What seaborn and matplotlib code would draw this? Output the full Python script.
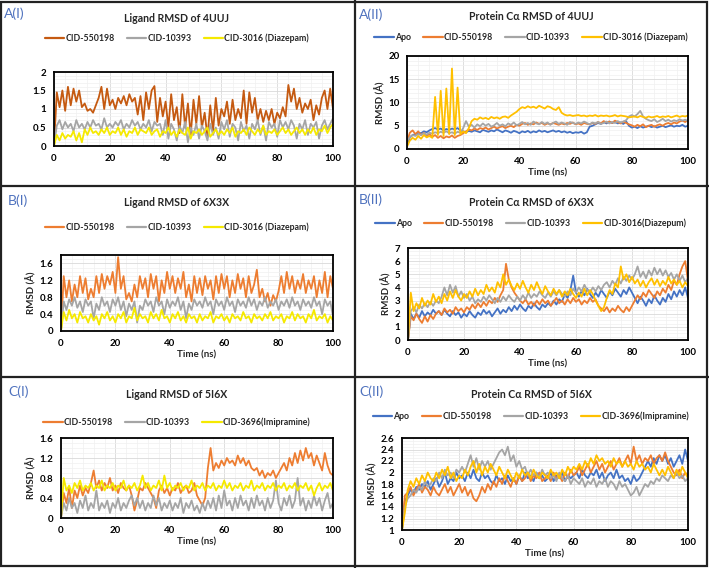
import numpy as np
import matplotlib
matplotlib.use('Agg')
import matplotlib.pyplot as plt
from matplotlib.lines import Line2D
from matplotlib.patches import Rectangle
from matplotlib.ticker import MultipleLocator
import seaborn as sns

sns.set_style('white')
plt.rcParams['font.family'] = ['Lato', 'DejaVu Sans']

# ── data (RMSD; one value per ns) ───────────────────────────────────
TIME = list(range(0, 101))

# A(I) ligand RMSD of 4UUJ
A1_CID550198 = [0.0,
    1.45, 1.05, 1.5, 0.95, 1.6, 1.1, 1.55, 1.2, 1.5, 1.05,
    1.15, 0.95, 1.0, 0.9, 1.1, 1.3, 1.6, 1.0, 1.55, 1.1,
    1.25, 1.0, 1.3, 1.15, 1.35, 1.1, 1.4, 1.2, 1.3, 0.85,
    1.35, 0.7, 1.45, 1.0, 1.5, 1.62, 0.65, 1.3, 0.8, 1.2,
    0.5, 1.4, 0.7, 1.05, 0.35, 1.4, 0.5, 1.15, 0.3, 1.25,
    0.6, 1.35, 0.5, 0.9, 0.25, 1.1, 0.4, 1.3, 0.55, 1.0,
    0.8, 1.2, 0.6, 1.25, 0.7, 1.0, 0.75, 1.5, 0.6, 1.45,
    0.9, 1.3, 0.7, 1.0, 0.65, 0.95, 0.7, 1.0, 0.6, 0.9,
    0.75, 1.05, 0.8, 1.65, 1.2, 1.55, 1.0, 1.3, 0.9, 1.15,
    1.0, 1.25, 0.7, 1.1, 0.85, 1.3, 1.5, 1.0, 1.55, 1.0]
A1_CID10393 = [0.0,
    0.55, 0.7, 0.45, 0.65, 0.5, 0.6, 0.4, 0.7, 0.5, 0.6,
    0.45, 0.65, 0.5, 0.7, 0.55, 0.6, 0.45, 0.75, 0.5, 0.6,
    0.5, 0.65, 0.55, 0.7, 0.45, 0.6, 0.5, 0.7, 0.55, 0.65,
    0.45, 0.6, 0.5, 0.7, 0.4, 0.65, 0.55, 0.6, 0.3, 0.7,
    0.2, 0.6, 0.45, 0.15, 0.55, 0.35, 0.65, 0.1, 0.5, 0.3,
    0.6, 0.2, 0.55, 0.4, 0.15, 0.6, 0.3, 0.5, 0.2, 0.65,
    0.45, 0.7, 0.25, 0.6, 0.5, 0.15, 0.65, 0.4, 0.55, 0.2,
    0.6, 0.45, 0.7, 0.3, 0.55, 0.15, 0.65, 0.5, 0.6, 0.25,
    0.7, 0.5, 0.65, 0.45, 0.7, 0.55, 0.2, 0.6, 0.45, 0.7,
    0.3, 0.6, 0.5, 0.65, 0.2, 0.55, 0.7, 0.45, 0.6, 0.75]
A1_CID3016 = [0.0,
    0.3, 0.15, 0.35, 0.2, 0.3, 0.25, 0.4, 0.15, 0.35, 0.1,
    0.45, 0.3, 0.5, 0.35, 0.4, 0.3, 0.45, 0.35, 0.5, 0.3,
    0.4, 0.35, 0.5, 0.3, 0.45, 0.25, 0.4, 0.35, 0.5, 0.3,
    0.45, 0.4, 0.35, 0.5, 0.3, 0.4, 0.45, 0.25, 0.4, 0.35,
    0.5, 0.3, 0.4, 0.25, 0.45, 0.35, 0.3, 0.5, 0.2, 0.4,
    0.35, 0.45, 0.3, 0.4, 0.5, 0.25, 0.35, 0.45, 0.3, 0.4,
    0.3, 0.45, 0.35, 0.5, 0.25, 0.4, 0.35, 0.45, 0.3, 0.5,
    0.4, 0.3, 0.45, 0.35, 0.55, 0.3, 0.4, 0.35, 0.45, 0.3,
    0.4, 0.5, 0.35, 0.45, 0.3, 0.4, 0.5, 0.35, 0.45, 0.3,
    0.45, 0.35, 0.5, 0.3, 0.45, 0.4, 0.55, 0.35, 0.5, 0.6]

# A(II) protein C-alpha RMSD of 4UUJ
A2_APO = [1.0,
    2.5, 3.0, 3.2, 3.5, 3.4, 3.8, 3.6, 4.0, 4.3, 4.5,
    4.2, 4.4, 4.0, 4.3, 4.1, 4.4, 4.2, 4.5, 4.0, 3.8,
    3.6, 3.9, 3.7, 4.0, 3.8, 3.6, 4.1, 3.9, 3.7, 4.0,
    3.8, 4.2, 3.9, 3.6, 4.0, 3.8, 3.5, 3.9, 3.7, 3.4,
    3.8, 3.6, 3.9, 3.5, 3.8, 3.6, 4.0, 3.7, 3.9, 3.6,
    3.8, 4.0, 3.7, 3.9, 3.6, 3.8, 3.5, 3.7, 3.4, 3.6,
    3.5, 3.7, 3.3, 3.6, 4.8, 5.0, 5.3, 5.6, 5.4, 5.8,
    5.5, 5.9, 5.6, 5.8, 5.5, 5.7, 5.4, 5.9, 5.0, 4.6,
    4.8, 4.5, 4.9, 4.6, 4.8, 5.0, 4.7, 4.9, 4.6, 4.8,
    5.0, 4.7, 4.9, 5.1, 4.8, 5.0, 4.9, 5.2, 4.8, 5.0]
A2_CID550198 = [1.5,
    3.5, 4.0, 3.2, 3.8, 3.0, 3.5, 2.8, 3.2, 2.6, 3.0,
    2.4, 2.8, 2.3, 2.7, 2.5, 2.9, 2.4, 2.8, 3.0, 3.4,
    3.8, 4.2, 4.0, 4.4, 4.1, 4.5, 4.3, 4.6, 4.2, 4.5,
    4.8, 4.4, 4.7, 4.9, 4.5, 4.8, 5.0, 4.7, 5.2, 5.0,
    5.4, 5.6, 5.2, 5.5, 5.3, 5.7, 5.4, 5.6, 5.2, 5.5,
    5.3, 5.6, 5.4, 5.2, 5.5, 5.3, 5.6, 5.4, 5.7, 5.3,
    5.5, 5.2, 5.6, 5.4, 5.3, 5.6, 5.4, 5.8, 5.5, 6.0,
    5.7, 5.9, 5.6, 6.1, 5.8, 5.5, 5.9, 5.6, 5.3, 5.1,
    4.8, 5.2, 4.9, 5.3, 4.7, 5.0, 5.2, 4.8, 5.1, 5.3,
    5.0, 5.4, 5.6, 5.3, 5.7, 5.5, 5.9, 6.1, 5.8, 6.2]
A2_CID10393 = [1.8,
    2.5, 3.0, 2.8, 3.2, 3.0, 3.4, 3.1, 3.5, 3.3, 3.6,
    3.4, 3.7, 3.5, 3.8, 3.4, 3.6, 3.3, 3.7, 3.5, 4.5,
    6.0, 4.8, 5.2, 4.6, 5.3, 4.9, 5.5, 5.0, 5.4, 4.8,
    5.1, 5.6, 5.0, 5.3, 4.9, 5.5, 5.2, 5.7, 5.1, 5.4,
    5.8, 5.3, 5.6, 5.2, 5.9, 5.5, 5.3, 5.8, 5.4, 5.7,
    5.2, 5.6, 5.9, 5.4, 5.7, 5.5, 5.2, 5.8, 5.6, 5.4,
    5.7, 5.5, 5.9, 5.6, 5.3, 5.7, 5.5, 5.8, 5.4, 5.6,
    5.9, 5.5, 5.8, 5.6, 6.0, 5.7, 5.9, 6.2, 7.0, 7.3,
    7.0, 7.5, 8.2, 7.0, 6.5, 6.2, 6.0, 6.4, 5.8, 6.1,
    6.5, 6.0, 6.3, 5.9, 6.2, 6.0, 6.4, 6.1, 6.3, 6.0]
A2_CID3016 = [0.5,
    1.8, 2.4, 2.0, 2.8, 2.2, 3.0, 2.5, 2.8, 2.4, 11.2,
    3.0, 12.5, 2.8, 13.0, 3.2, 17.3, 3.0, 13.2, 3.2, 3.8,
    3.4, 4.5, 6.0, 6.5, 6.3, 6.8, 6.5, 6.7, 6.4, 6.9,
    6.6, 6.8, 6.5, 6.9, 7.0, 6.7, 7.2, 7.6, 8.0, 8.6,
    9.0, 8.8, 9.2, 8.9, 9.1, 8.8, 9.3, 9.0, 8.7, 9.2,
    9.0, 8.6, 8.4, 9.0, 7.8, 7.4, 7.2, 7.3, 7.1, 7.2,
    7.3, 7.1, 7.2, 7.0, 7.2, 7.1, 7.3, 7.0, 7.2, 7.1,
    7.2, 7.0, 7.1, 7.3, 7.0, 7.2, 7.1, 7.0, 6.8, 6.9,
    7.0, 6.8, 7.1, 6.9, 6.7, 7.0, 6.8, 6.9, 7.1, 6.8,
    7.0, 6.9, 7.1, 6.8, 7.0, 7.2, 6.9, 7.1, 7.0, 7.2]

# B(I) ligand RMSD of 6X3X
B1_CID550198 = [0.0,
    1.3, 0.8, 1.2, 0.7, 1.1, 0.8, 1.3, 0.9, 1.25, 0.75,
    1.0, 0.8, 1.3, 0.9, 1.35, 1.0, 1.3, 1.1, 1.4, 0.9,
    1.75, 1.0, 1.3, 0.75, 0.9, 0.7, 1.1, 0.8, 1.3, 1.0,
    1.25, 0.8, 1.35, 1.0, 1.3, 0.7, 1.2, 0.9, 1.4, 1.0,
    1.3, 0.9, 1.25, 1.0, 1.4, 0.8, 1.1, 0.7, 1.3, 0.9,
    1.25, 0.85, 1.3, 1.0, 1.2, 0.75, 1.3, 0.9, 1.35, 1.0,
    1.3, 0.8, 1.2, 0.9, 1.35, 1.0, 1.25, 0.8, 1.3, 0.9,
    1.1, 1.45, 0.8, 1.0, 0.7, 0.9, 0.6, 0.85, 0.7, 0.95,
    1.3, 0.9, 1.4, 1.0, 1.3, 0.9, 1.2, 1.0, 1.35, 0.9,
    1.2, 1.0, 1.3, 0.8, 1.2, 0.9, 1.4, 0.8, 1.3, 1.0]
B1_CID10393 = [0.0,
    0.7, 0.5, 0.75, 0.6, 0.8, 0.55, 0.7, 0.45, 0.75, 0.6,
    0.7, 0.3, 0.65, 0.5, 0.8, 0.6, 0.7, 0.45, 0.75, 0.6,
    0.8, 0.5, 0.7, 0.35, 0.65, 0.5, 0.7, 0.2, 0.6, 0.5,
    0.75, 0.6, 0.7, 0.45, 0.8, 0.6, 0.7, 0.4, 0.75, 0.55,
    0.7, 0.6, 0.8, 0.5, 0.7, 0.3, 0.65, 0.5, 0.75, 0.6,
    0.7, 0.55, 0.8, 0.6, 0.7, 0.4, 0.75, 0.6, 0.7, 0.5,
    0.8, 0.6, 0.7, 0.45, 0.75, 0.6, 0.7, 0.55, 0.8, 0.6,
    0.75, 0.5, 0.7, 0.6, 0.8, 0.55, 0.7, 0.6, 0.75, 0.5,
    0.7, 0.6, 0.75, 0.55, 0.8, 0.6, 0.7, 0.5, 0.75, 0.6,
    0.7, 0.55, 0.8, 0.6, 0.7, 0.4, 0.75, 0.6, 0.7, 0.35]
B1_CID3016 = [0.0,
    0.45, 0.25, 0.5, 0.3, 0.4, 0.2, 0.45, 0.3, 0.35, 0.2,
    0.4, 0.25, 0.35, 0.15, 0.4, 0.3, 0.45, 0.25, 0.35, 0.2,
    0.4, 0.3, 0.45, 0.2, 0.35, 0.3, 0.55, 0.25, 0.4, 0.3,
    0.35, 0.2, 0.45, 0.3, 0.4, 0.25, 0.5, 0.3, 0.35, 0.2,
    0.4, 0.3, 0.45, 0.25, 0.35, 0.2, 0.4, 0.3, 0.35, 0.2,
    0.4, 0.25, 0.35, 0.3, 0.45, 0.2, 0.35, 0.3, 0.4, 0.25,
    0.35, 0.2, 0.4, 0.3, 0.35, 0.25, 0.45, 0.3, 0.35, 0.2,
    0.4, 0.3, 0.35, 0.25, 0.4, 0.3, 0.45, 0.25, 0.35, 0.3,
    0.4, 0.2, 0.35, 0.3, 0.45, 0.25, 0.4, 0.3, 0.35, 0.2,
    0.4, 0.3, 0.5, 0.25, 0.35, 0.3, 0.4, 0.2, 0.35, 0.25]

# B(II) protein C-alpha RMSD of 6X3X
B2_APO = [0.0,
    2.0, 1.6, 2.0, 1.7, 2.2, 1.8, 2.1, 1.9, 2.3, 2.0,
    2.2, 1.9, 2.3, 2.0, 1.8, 2.2, 1.9, 2.1, 1.7, 2.0,
    1.8, 2.2, 1.9, 1.7, 2.1, 1.9, 2.3, 2.0, 2.2, 1.8,
    2.1, 2.4, 2.0, 2.3, 2.1, 2.5, 2.2, 2.6, 2.3, 2.7,
    2.4, 2.2, 2.6, 2.4, 2.8, 2.5, 2.3, 2.7, 2.5, 2.8,
    2.6, 3.0, 2.7, 3.1, 2.9, 3.5, 3.2, 3.8, 4.9, 3.6,
    3.3, 3.7, 3.4, 3.9, 3.5, 3.2, 3.6, 3.3, 3.8, 3.5,
    3.2, 3.7, 3.4, 3.9, 3.6, 3.3, 3.8, 3.5, 4.0, 3.6,
    3.2, 2.8, 3.3, 3.0, 2.6, 3.1, 2.8, 3.4, 3.0, 2.7,
    3.2, 2.9, 3.5, 3.1, 3.7, 3.3, 3.8, 3.4, 4.0, 3.2]
B2_CID550198 = [0.0,
    1.8, 1.5, 2.0, 1.6, 1.3, 1.8, 1.4, 1.9, 1.6, 2.0,
    2.2, 1.9, 2.4, 2.1, 2.3, 2.0, 2.5, 2.2, 2.4, 2.1,
    2.5, 2.3, 2.7, 2.4, 2.8, 2.5, 2.9, 2.6, 3.0, 2.8,
    3.2, 2.9, 3.4, 3.8, 5.8, 4.6, 4.0, 3.6, 3.3, 3.0,
    2.8, 3.1, 2.7, 2.9, 2.6, 3.0, 2.7, 3.1, 2.8, 3.0,
    2.6, 2.9, 3.2, 2.8, 3.0, 2.7, 3.1, 2.8, 3.2, 2.9,
    3.1, 2.7, 3.0, 2.8, 3.2, 2.9, 3.1, 2.6, 2.4, 2.2,
    2.5, 2.1, 2.4, 2.2, 2.6, 2.3, 2.1, 2.5, 2.2, 2.6,
    3.0, 3.4, 3.1, 3.6, 3.3, 3.8, 3.5, 3.2, 3.7, 3.4,
    3.9, 3.6, 4.2, 3.8, 4.5, 4.2, 5.0, 5.6, 6.0, 4.5]
B2_CID10393 = [0.0,
    2.2, 2.5, 2.1, 2.7, 2.4, 2.8, 2.5, 2.9, 2.6, 3.0,
    2.8, 3.3, 4.0, 3.4, 4.2, 3.6, 4.1, 3.3, 3.7, 3.2,
    3.5, 3.0, 3.3, 2.8, 3.1, 2.9, 3.3, 3.0, 3.4, 3.1,
    2.8, 3.2, 2.9, 3.3, 3.0, 3.4, 3.1, 2.9, 3.3, 3.0,
    3.4, 3.1, 3.6, 3.2, 3.5, 3.3, 3.7, 3.4, 3.2, 3.6,
    3.3, 3.7, 3.4, 3.8, 3.5, 3.3, 3.7, 3.4, 3.9, 3.6,
    4.0, 3.7, 4.2, 3.8, 3.6, 4.0, 3.7, 4.1, 3.8, 4.2,
    4.4, 4.0, 4.5, 4.2, 4.7, 4.3, 4.8, 4.5, 4.9, 4.6,
    5.0, 5.6, 4.8, 5.2, 4.7, 5.3, 4.9, 5.5, 5.0, 5.4,
    4.9, 5.3, 4.8, 5.1, 4.6, 5.0, 4.5, 4.9, 4.4, 4.7]
B2_CID3016 = [0.0,
    3.6, 2.2, 2.8, 2.4, 3.2, 2.6, 3.0, 2.7, 3.5, 2.9,
    3.3, 2.8, 3.5, 3.0, 3.7, 3.2, 3.8, 3.3, 3.0, 3.5,
    3.2, 3.7, 3.3, 3.9, 3.4, 3.8, 3.5, 4.2, 3.7, 4.0,
    3.6, 4.4, 4.0, 5.0, 4.2, 4.6, 4.1, 3.8, 4.3, 3.9,
    4.5, 4.0, 3.6, 4.2, 3.8, 4.4, 3.9, 3.5, 4.1, 3.7,
    3.4, 3.9, 3.5, 3.8, 3.3, 3.7, 3.4, 3.9, 3.5, 3.2,
    3.6, 3.3, 3.9, 3.4, 3.8, 3.5, 3.0, 2.6, 2.2, 2.5,
    3.2, 3.8, 3.5, 4.3, 4.0, 5.6, 4.6, 5.0, 4.4, 4.8,
    4.3, 4.6, 4.1, 4.5, 4.0, 4.4, 4.7, 4.2, 4.6, 4.1,
    4.5, 4.2, 4.8, 4.3, 4.6, 4.2, 4.5, 4.0, 4.4, 4.1]

# C(I) ligand RMSD of 5I6X
C1_CID550198 = [0.0,
    0.5, 0.3, 0.6, 0.2, 0.55, 0.4, 0.65, 0.45, 0.6, 0.5,
    0.7, 0.95, 0.6, 0.75, 0.55, 0.7, 0.6, 0.8, 0.55, 0.65,
    0.5, 0.7, 0.6, 0.55, 0.65, 0.45, 0.15, 0.35, 0.6, 0.55,
    0.7, 0.6, 0.5, 0.4, 0.2, 0.55, 0.65, 0.5, 0.6, 0.45,
    0.6, 0.55, 0.7, 0.5, 0.6, 0.65, 0.5, 0.55, 0.7, 0.45,
    0.35, 0.25, 0.4, 1.0, 1.4, 0.95, 1.1, 1.0, 1.15, 1.05,
    1.2, 1.1, 1.15, 1.05, 1.25, 1.1, 1.2, 1.05, 1.15, 1.0,
    0.95, 1.0, 0.85, 0.95, 0.8, 0.9, 0.85, 0.95, 0.8, 0.9,
    1.0, 1.1, 0.95, 1.2, 1.05, 1.3, 1.1, 1.35, 1.15, 1.4,
    1.2, 1.3, 1.05, 1.25, 1.1, 0.95, 1.3, 1.05, 0.9, 0.85]
C1_CID10393 = [0.0,
    0.3, 0.15, 0.4, 0.2, 0.3, 0.1, 0.35, 0.2, 0.45, 0.15,
    0.3, 0.2, 0.55, 0.15, 0.3, 0.2, 0.35, 0.1, 0.3, 0.2,
    0.4, 0.15, 0.3, 0.2, 0.35, 0.45, 0.25, 0.4, 0.2, 0.35,
    0.15, 0.3, 0.2, 0.45, 0.25, 0.4, 0.15, 0.3, 0.2, 0.35,
    0.15, 0.3, 0.2, 0.4, 0.1, 0.3, 0.2, 0.35, 0.15, 0.25,
    0.1, 0.3, 0.15, 0.35, 0.2, 0.4, 0.15, 0.45, 0.2, 0.55,
    0.25, 0.35, 0.15, 0.4, 0.2, 0.45, 0.25, 0.35, 0.15, 0.4,
    0.2, 0.45, 0.25, 0.35, 0.15, 0.4, 0.2, 0.35, 0.75, 0.3,
    0.15, 0.4, 0.25, 0.45, 0.2, 0.35, 0.8, 0.25, 0.4, 0.15,
    0.35, 0.2, 0.45, 0.25, 0.4, 0.15, 0.35, 0.5, 0.2, 0.3]
C1_CID3696 = [0.0,
    0.8, 0.55, 0.65, 0.5, 0.7, 0.6, 0.75, 0.55, 0.65, 0.6,
    0.7, 0.55, 0.65, 0.6, 0.75, 0.55, 0.65, 0.6, 0.7, 0.55,
    0.65, 0.6, 0.75, 0.55, 0.65, 0.6, 0.7, 0.55, 0.65, 0.85,
    0.6, 0.7, 0.55, 0.65, 0.6, 0.75, 0.55, 0.85, 0.6, 0.7,
    0.55, 0.65, 0.6, 0.7, 0.55, 0.65, 0.6, 0.75, 0.55, 0.65,
    0.6, 0.7, 0.55, 0.65, 0.6, 0.7, 0.55, 0.65, 0.6, 0.75,
    0.6, 0.7, 0.55, 0.65, 0.6, 0.7, 0.55, 0.65, 0.6, 0.75,
    0.55, 0.65, 0.6, 0.7, 0.55, 0.65, 0.6, 0.7, 0.55, 0.65,
    0.6, 0.7, 0.55, 0.65, 0.6, 0.7, 0.55, 0.65, 0.6, 0.7,
    0.55, 0.65, 0.45, 0.6, 0.7, 0.55, 0.65, 0.6, 0.7, 0.55]

# C(II) protein C-alpha RMSD of 5I6X
C2_APO = [1.0,
    1.5, 1.6, 1.7, 1.65, 1.75, 1.7, 1.8, 1.75, 1.85, 1.7,
    1.8, 1.9, 1.75, 1.85, 2.0, 1.8, 1.9, 1.85, 2.0, 1.9,
    1.95, 1.85, 2.0, 1.9, 2.05, 1.9, 1.85, 2.0, 1.9, 1.95,
    1.85, 1.8, 1.95, 1.85, 1.9, 1.8, 1.95, 1.85, 1.9, 1.8,
    1.95, 1.85, 2.0, 1.9, 1.95, 1.85, 2.0, 1.9, 1.95, 1.85,
    1.9, 2.0, 1.85, 1.95, 1.9, 2.0, 1.85, 1.95, 1.9, 1.95,
    2.0, 1.9, 2.05, 1.95, 1.9, 2.0, 1.95, 2.05, 1.9, 2.0,
    1.85, 1.95, 2.0, 1.9, 2.05, 1.9, 1.95, 1.85, 1.9, 1.8,
    1.95, 1.85, 1.9, 2.0, 2.1, 2.2, 2.1, 2.25, 2.15, 2.3,
    2.2, 2.3, 2.15, 2.25, 2.1, 2.2, 2.3, 2.15, 2.4, 2.2]
C2_CID550198 = [1.0,
    1.6, 1.65, 1.75, 1.6, 1.7, 1.8, 1.65, 1.75, 1.7, 1.6,
    1.75, 1.65, 1.6, 1.7, 1.8, 1.65, 1.75, 1.6, 1.7, 1.8,
    1.65, 1.75, 1.6, 1.7, 1.55, 1.5, 1.6, 1.75, 1.65, 1.8,
    1.7, 1.85, 1.75, 1.9, 1.8, 1.95, 1.85, 1.75, 1.9, 1.8,
    1.95, 1.85, 1.9, 2.0, 1.85, 1.95, 1.9, 2.0, 1.85, 1.9,
    1.95, 1.85, 2.0, 1.9, 1.95, 1.85, 2.0, 1.9, 2.05, 1.95,
    2.0, 2.1, 1.95, 2.05, 2.15, 2.0, 2.1, 2.2, 2.05, 2.15,
    2.0, 2.1, 2.2, 2.05, 2.15, 2.25, 2.1, 2.2, 2.3, 2.15,
    2.45, 2.2, 2.3, 2.15, 2.25, 2.2, 2.3, 2.15, 2.25, 2.3,
    2.2, 2.35, 2.2, 2.1, 2.0, 1.95, 2.05, 1.9, 2.0, 1.95]
C2_CID10393 = [1.0,
    1.4, 1.55, 1.6, 1.7, 1.65, 1.75, 1.7, 1.85, 1.75, 1.8,
    1.9, 1.85, 2.0, 1.9, 2.05, 1.95, 2.0, 1.9, 2.05, 2.0,
    2.1, 2.0, 2.15, 2.3, 2.1, 2.25, 2.05, 2.2, 2.1, 2.2,
    2.05, 2.15, 2.25, 2.35, 2.4, 2.3, 2.45, 2.2, 2.3, 2.1,
    2.2, 2.05, 2.1, 1.95, 2.05, 1.95, 2.0, 1.9, 2.05, 1.95,
    2.0, 1.9, 1.95, 1.85, 2.0, 1.9, 1.85, 1.95, 1.8, 1.9,
    1.85, 1.8, 1.9, 1.75, 1.85, 1.8, 1.9, 1.75, 1.85, 1.8,
    1.9, 1.75, 1.85, 1.8, 1.7, 1.85, 1.75, 1.8, 1.7, 1.6,
    1.65, 1.75, 1.6, 1.7, 1.8, 1.75, 1.85, 1.8, 1.9, 1.85,
    1.95, 1.9, 1.85, 1.95, 1.9, 2.0, 1.9, 1.95, 1.85, 1.9]
C2_CID3696 = [1.0,
    1.3, 1.7, 1.85, 1.75, 1.9, 1.8, 1.95, 1.85, 2.0, 1.9,
    1.85, 2.0, 1.9, 2.05, 1.95, 2.1, 1.9, 2.0, 1.85, 1.95,
    1.9, 2.05, 1.95, 2.1, 2.2, 2.0, 2.15, 1.95, 2.1, 2.0,
    2.15, 2.05, 1.95, 2.1, 2.0, 1.9, 2.05, 1.95, 1.85, 2.0,
    1.9, 2.05, 1.95, 2.0, 1.9, 2.05, 1.95, 1.9, 2.0, 1.95,
    1.9, 2.05, 1.95, 2.0, 1.9, 2.05, 1.95, 2.1, 2.0, 2.1,
    2.05, 2.15, 2.05, 2.2, 2.1, 2.25, 2.15, 2.3, 2.2, 2.25,
    2.15, 2.2, 2.1, 2.25, 2.15, 2.2, 2.1, 2.2, 2.1, 2.15,
    2.05, 2.2, 2.1, 2.15, 2.05, 2.1, 2.0, 2.15, 2.05, 1.95,
    2.05, 1.95, 2.1, 2.0, 1.9, 2.05, 1.95, 2.1, 2.0, 1.9]

# tick labels as shown
XT = ['0', '20', '40', '60', '80', '100']
YT_A1 = ['0', '0.5', '1', '1.5', '2']
YT_A2 = ['0', '5', '10', '15', '20']
YT_B1 = ['0', '0.4', '0.8', '1.2', '1.6']
YT_B2 = ['0', '1', '2', '3', '4', '5', '6', '7']
YT_C1 = ['0', '0.4', '0.8', '1.2', '1.6']
YT_C2 = ['1', '1.2', '1.4', '1.6', '1.8', '2', '2.2', '2.4', '2.6']

# ── colours ─────────────────────────────────────────────────────────
BLUE, ORANGE, DKORANGE = '#4472C4', '#ED7D31', '#C55A11'
GRAY, YELLOW, GOLD = '#A5A5A5', '#F5E900', '#FFC000'
LABEL_BLUE = '#4F72BE'

W, H = 709, 568
fig = plt.figure(figsize=(W / 100, H / 100), dpi=100)
fig.patch.set_facecolor('white')


def fx(px):
    return px / W


def fy(py):
    return 1 - py / H


def panel(box, series, ylim, ystep, yminor, yticklabels, title, title_y,
          leg_y, tag, tag_xy, xlabel=True, ylabel=True):
    x0, top, x1, bot = box
    ax = fig.add_axes([fx(x0), fy(bot), fx(x1 - x0), (bot - top) / H])
    for name, vals, col in series:
        sns.lineplot(x=TIME, y=vals, ax=ax, color=col, linewidth=1.3,
                     label=name, legend=False)
    ax.set_xlim(0, 100)
    ax.set_ylim(*ylim)
    ax.set_xticks([i * 20 for i in range(len(XT))])
    ax.set_xticklabels(XT, fontweight='bold')
    ax.xaxis.set_minor_locator(MultipleLocator(4))
    yt = [ylim[0] + i * ystep for i in range(len(yticklabels))]
    ax.set_yticks(yt)
    ax.set_yticklabels(yticklabels, fontweight='bold')
    ax.yaxis.set_minor_locator(MultipleLocator(yminor))
    ax.grid(True, which='major', color='#D9D9D9', linewidth=0.6)
    ax.grid(True, which='minor', color='#F0F0F0', linewidth=0.5)
    ax.set_axisbelow(True)
    for s in ax.spines.values():
        s.set_color('black')
        s.set_linewidth(1.3)
    ax.tick_params(which='major', direction='inout', length=5, width=1.3,
                   labelsize=7, pad=3, colors='black')
    ax.tick_params(which='minor', direction='inout', length=4, width=1.1,
                   colors='black')
    ax.set_xlabel('Time (ns)' if xlabel else '', fontsize=7,
                  fontweight='bold', labelpad=2)
    ax.set_ylabel('RMSD (Å)' if ylabel else '', fontsize=7,
                  fontweight='bold', labelpad=2)
    cx = 177 if x0 < 355 else 531
    fig.text(fx(cx), fy(title_y), title, ha='center', va='center',
             fontsize=7.6, fontweight='bold')
    handles = [Line2D([], [], color=c, linewidth=1.6) for _, _, c in series]
    names = [n for n, _, _ in series]
    ax.legend(handles, names, loc='center', ncol=len(series),
              bbox_to_anchor=(fx(cx), fy(leg_y)),
              bbox_transform=fig.transFigure, frameon=False,
              prop={'size': 6.3, 'weight': 'bold'}, handlelength=2.2,
              handletextpad=0.15, columnspacing=1.4)
    fig.text(fx(tag_xy[0]), fy(tag_xy[1]), tag, ha='left', va='center',
             fontsize=10, color=LABEL_BLUE)
    return ax


panel((54, 72, 333, 146),
      [('CID-550198', A1_CID550198, DKORANGE),
       ('CID-10393', A1_CID10393, GRAY),
       ('CID-3016 (Diazepam)', A1_CID3016, YELLOW)],
      (0, 2), 0.5, 0.1, YT_A1, 'Ligand RMSD of 4UUJ', 18, 38,
      'A(I)', (4, 14), xlabel=False, ylabel=False)

panel((407, 56, 688, 149),
      [('Apo', A2_APO, BLUE),
       ('CID-550198', A2_CID550198, ORANGE),
       ('CID-10393', A2_CID10393, GRAY),
       ('CID-3016 (Diazepam)', A2_CID3016, GOLD)],
      (0, 20), 5, 1, YT_A2, 'Protein Cα RMSD of 4UUJ', 17, 37,
      'A(II)', (359, 15))

panel((61, 255, 333, 331),
      [('CID-550198', B1_CID550198, ORANGE),
       ('CID-10393', B1_CID10393, GRAY),
       ('CID-3016 (Diazepam)', B1_CID3016, YELLOW)],
      (0, 1.8), 0.4, 0.1, YT_B1, 'Ligand RMSD of 6X3X', 203, 227,
      'B(I)', (8, 201))

panel((408, 248, 688, 340),
      [('Apo', B2_APO, BLUE),
       ('CID-550198', B2_CID550198, ORANGE),
       ('CID-10393', B2_CID10393, GRAY),
       ('CID-3016(Diazepum)', B2_CID3016, GOLD)],
      (0, 7), 1, 0.25, YT_B2, 'Protein Cα RMSD of 6X3X', 202, 223,
      'B(II)', (359, 200))

panel((61, 438, 333, 518),
      [('CID-550198', C1_CID550198, ORANGE),
       ('CID-10393', C1_CID10393, GRAY),
       ('CID-3696(Imipramine)', C1_CID3696, YELLOW)],
      (0, 1.6), 0.4, 0.1, YT_C1, 'Ligand RMSD of 5I6X', 395, 422,
      'C(I)', (8, 392))

panel((402, 438, 688, 530),
      [('Apo', C2_APO, BLUE),
       ('CID-550198', C2_CID550198, ORANGE),
       ('CID-10393', C2_CID10393, GRAY),
       ('CID-3696(Imipramine)', C2_CID3696, GOLD)],
      (1, 2.6), 0.2, 0.05, YT_C2, 'Protein Cα RMSD of 5I6X', 395, 416,
      'C(II)', (359, 392))

# panel frames
fig.add_artist(Rectangle((0.002, 0.003), 0.995, 0.994, fill=False,
                         edgecolor='#222222', linewidth=1.6,
                         transform=fig.transFigure))
fig.add_artist(Line2D([0.5, 0.5], [0, 1], color='#222222', linewidth=1.6,
                      transform=fig.transFigure))
for py in (186, 377):
    fig.add_artist(Line2D([0, 1], [fy(py), fy(py)], color='#222222',
                          linewidth=1.6, transform=fig.transFigure))

fig.savefig('out.png', dpi=100)
